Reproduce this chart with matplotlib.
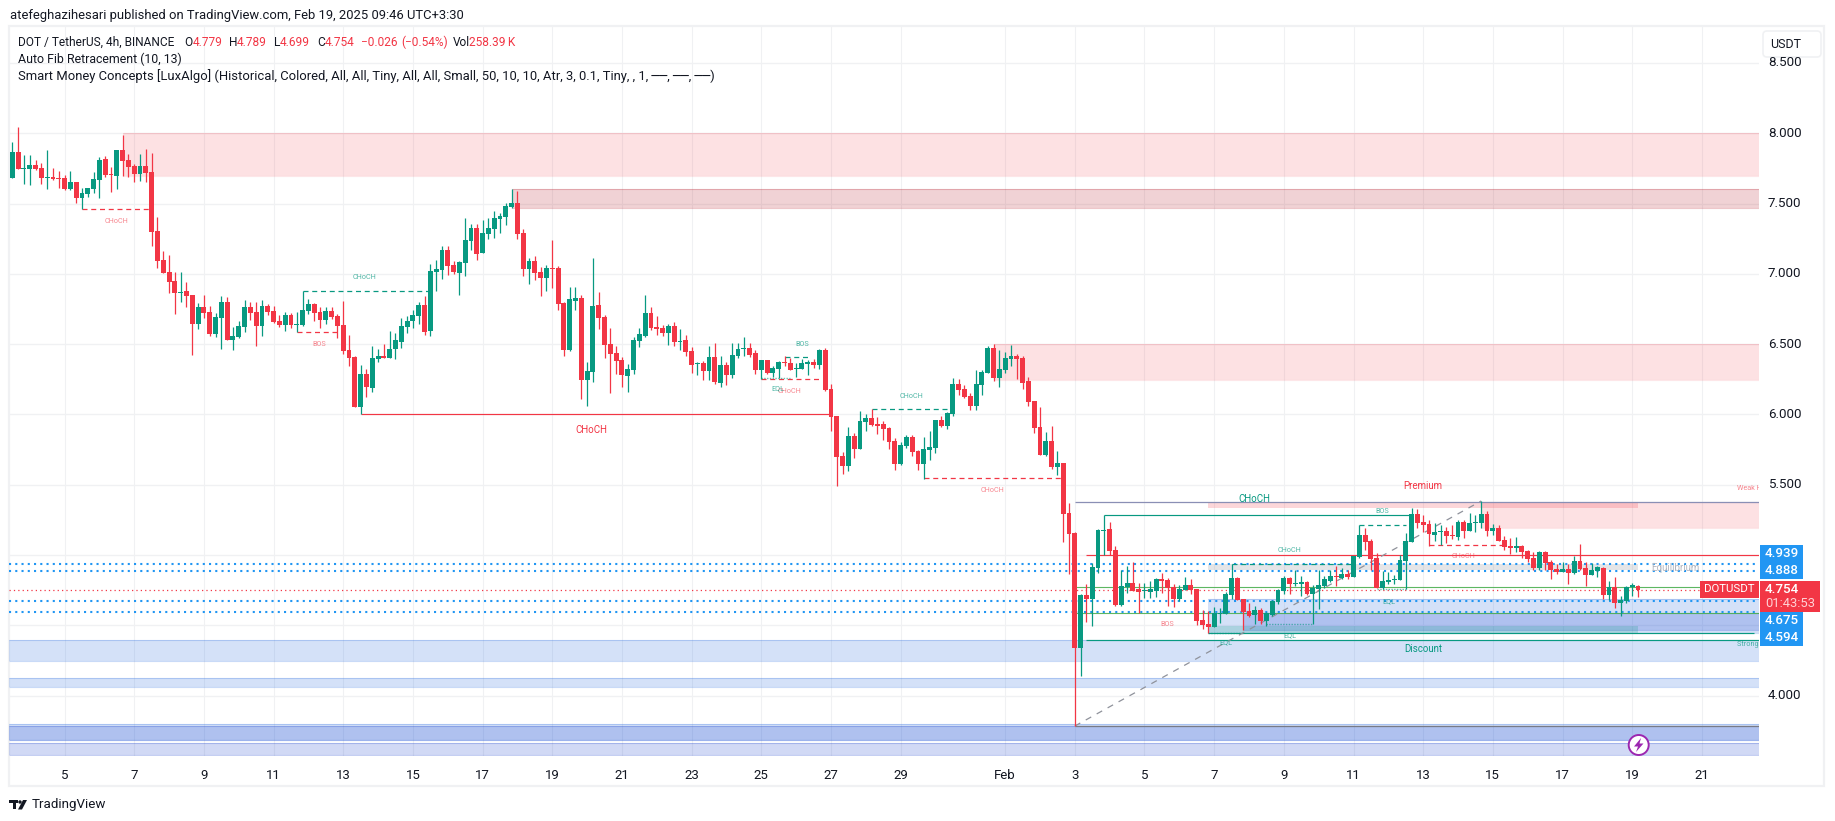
import matplotlib
matplotlib.use('Agg')
import matplotlib.pyplot as plt
from matplotlib.patches import Rectangle, Circle, Polygon, FancyBboxPatch
import numpy as np
import pandas as pd

plt.rcParams['font.family'] = ['Roboto', 'DejaVu Sans']

# 4h candles, first bar is Jan 3 12:00
opens = [7.685,7.867,7.749,7.749,7.772,7.753,7.682,7.687,7.682,7.682,
         7.604,7.654,7.540,7.569,7.604,7.668,7.817,7.708,7.699,7.881,
         7.810,7.768,7.711,7.768,7.725,7.305,7.099,7.014,6.950,6.867,
         6.879,6.850,6.646,6.765,6.732,6.575,6.687,6.801,6.530,6.551,
         6.623,6.765,6.729,6.630,6.772,6.736,6.665,6.637,6.708,6.637,
         6.637,6.736,6.786,6.729,6.672,6.736,6.701,6.637,6.459,6.409,
         6.054,6.288,6.189,6.395,6.416,6.402,6.466,6.516,6.623,6.665,
         6.701,6.779,6.594,7.016,7.028,7.170,7.064,7.007,7.078,7.234,
         7.327,7.149,7.284,7.320,7.391,7.405,7.476,7.505,7.291,7.035,
         7.092,7.014,6.971,7.042,7.042,6.793,6.457,6.807,6.829,6.246,
         6.303,6.779,6.694,6.502,6.438,6.388,6.274,6.317,6.523,6.558,
         6.722,6.622,6.615,6.580,6.630,6.516,6.530,6.452,6.362,6.367,
         6.310,6.409,6.224,6.352,6.281,6.416,6.466,6.473,6.438,6.317,
         6.388,6.295,6.324,6.374,6.367,6.324,6.324,6.359,6.374,6.352,
         6.459,6.182,5.990,5.705,5.634,5.848,5.755,5.947,5.976,5.933,
         5.933,5.904,5.812,5.649,5.776,5.840,5.741,5.649,5.748,5.762,
         5.961,5.919,6.004,6.217,6.182,6.132,6.061,6.210,6.295,6.473,
         6.260,6.317,6.395,6.416,6.402,6.238,6.096,5.911,5.712,5.812,
         5.627,5.655,5.299,5.157,4.339,4.716,4.688,4.908,5.171,5.186,
         5.036,4.645,4.773,4.802,4.757,4.747,4.738,4.745,4.830,4.823,
         4.773,4.688,4.752,4.787,4.759,4.538,4.510,4.489,4.583,4.581,
         4.716,4.837,4.688,4.602,4.574,4.610,4.531,4.574,4.666,4.745,
         4.837,4.794,4.794,4.809,4.723,4.759,4.780,4.816,4.851,4.837,
         4.865,4.844,4.986,5.143,5.100,4.979,4.766,4.809,4.823,4.823,
         4.958,5.093,5.292,5.235,5.221,5.143,5.164,5.171,5.143,5.129,
         5.235,5.171,5.228,5.228,5.292,5.171,5.193,5.107,5.065,5.050,
         5.065,5.029,4.979,4.908,5.022,4.951,4.901,4.880,4.901,4.873,
         4.958,4.908,4.858,4.887,4.908,4.716,4.773,4.659,4.674,4.773,
         4.779]
highs = [7.936,8.045,7.846,7.846,7.810,7.787,7.881,7.751,7.735,7.704,
         7.735,7.654,7.609,7.609,7.727,7.834,7.839,7.763,7.881,7.988,
         7.853,7.782,7.853,7.889,7.858,7.403,7.161,7.132,7.011,7.014,
         6.945,6.850,6.791,6.850,6.772,6.725,6.843,6.836,6.625,6.665,
         6.815,6.801,6.803,6.815,6.786,6.772,6.708,6.729,6.720,6.732,
         6.876,6.822,6.796,6.767,6.765,6.765,6.715,6.807,6.566,6.416,
         6.352,6.324,6.487,6.466,6.502,6.594,6.580,6.684,6.698,6.744,
         6.803,6.843,7.071,7.099,7.199,7.199,7.092,7.092,7.395,7.355,
         7.355,7.384,7.395,7.448,7.431,7.502,7.604,7.590,7.320,7.113,
         7.128,7.052,7.064,7.241,7.056,6.803,6.907,6.907,6.850,6.374,
         7.113,6.872,6.708,6.613,6.487,6.411,6.359,6.551,6.615,6.850,
         6.765,6.701,6.637,6.644,6.658,6.608,6.566,6.480,6.374,6.381,
         6.487,6.509,6.416,6.374,6.509,6.509,6.551,6.509,6.459,6.388,
         6.388,6.345,6.381,6.414,6.400,6.367,6.395,6.388,6.395,6.466,
         6.473,6.217,5.990,5.734,5.911,5.869,6.025,6.004,6.037,5.983,
         5.954,5.911,5.833,5.805,5.855,5.855,5.748,5.840,5.883,5.961,
         5.990,6.018,6.260,6.253,6.210,6.153,6.317,6.317,6.487,6.502,
         6.459,6.445,6.494,6.431,6.416,6.267,6.096,6.054,5.876,5.919,
         5.741,5.655,5.370,5.164,4.723,4.794,4.944,5.186,5.283,5.235,
         5.065,4.894,4.922,4.948,4.799,4.799,4.816,4.837,4.873,4.837,
         4.794,4.787,4.844,4.830,4.759,4.610,4.602,4.629,4.621,4.738,
         4.939,4.844,4.688,4.659,4.638,4.624,4.595,4.681,4.759,4.851,
         4.846,4.894,4.851,4.816,4.787,4.894,4.851,4.894,4.920,4.911,
         4.894,4.993,5.214,5.193,5.114,5.015,4.887,4.880,4.858,5.001,
         5.155,5.335,5.328,5.285,5.250,5.226,5.214,5.200,5.214,5.250,
         5.250,5.299,5.285,5.385,5.313,5.221,5.214,5.136,5.121,5.131,
         5.072,5.036,5.022,5.029,5.029,4.965,4.937,4.951,4.937,4.993,
         5.079,4.951,4.944,4.922,4.915,4.816,4.844,4.709,4.780,4.801,
         4.789]
lows = [7.685,7.749,7.640,7.633,7.739,7.640,7.604,7.668,7.609,7.597,
        7.597,7.507,7.460,7.550,7.578,7.540,7.692,7.585,7.604,7.699,
        7.692,7.656,7.661,7.656,7.201,7.045,7.009,6.867,6.715,6.803,
        6.767,6.423,6.608,6.684,6.561,6.554,6.466,6.530,6.459,6.547,
        6.589,6.672,6.490,6.559,6.708,6.651,6.625,6.597,6.618,6.585,
        6.630,6.715,6.668,6.615,6.644,6.677,6.544,6.431,6.345,6.054,
        6.001,6.125,6.160,6.374,6.400,6.400,6.395,6.473,6.578,6.615,
        6.644,6.566,6.559,6.879,6.964,6.992,7.000,6.850,6.985,7.170,
        7.099,7.149,7.248,7.256,7.289,7.348,7.469,7.248,6.985,6.928,
        6.957,6.843,6.879,6.898,6.744,6.416,6.452,6.744,6.113,6.061,
        6.231,6.608,6.405,6.153,6.288,6.196,6.160,6.288,6.480,6.551,
        6.601,6.566,6.558,6.494,6.487,6.459,6.416,6.295,6.281,6.246,
        6.246,6.217,6.196,6.210,6.260,6.402,6.416,6.409,6.288,6.250,
        6.288,6.267,6.260,6.345,6.317,6.267,6.324,6.281,6.331,6.324,
        6.168,5.883,5.492,5.577,5.599,5.691,5.755,5.883,5.919,5.862,
        5.819,5.755,5.606,5.641,5.762,5.705,5.606,5.544,5.677,5.727,
        5.911,5.897,5.990,6.139,6.118,6.032,6.032,6.139,6.295,6.239,
        6.196,6.295,6.345,6.253,6.182,6.061,5.869,5.712,5.705,5.613,
        5.570,5.094,4.865,3.784,4.140,4.524,4.496,4.873,5.001,5.001,
        4.638,4.638,4.730,4.745,4.586,4.695,4.695,4.702,4.730,4.638,
        4.631,4.674,4.752,4.723,4.503,4.475,4.444,4.489,4.515,4.581,
        4.688,4.681,4.467,4.560,4.510,4.510,4.496,4.567,4.652,4.723,
        4.723,4.780,4.709,4.716,4.510,4.617,4.766,4.809,4.780,4.830,
        4.830,4.844,4.979,5.036,4.894,4.766,4.759,4.794,4.794,4.823,
        4.759,5.093,5.193,5.164,5.067,5.100,5.072,5.086,5.114,5.107,
        5.121,5.171,5.164,5.190,5.136,5.143,5.100,5.036,5.008,5.022,
        4.979,4.951,4.894,4.894,4.894,4.830,4.865,4.880,4.794,4.865,
        4.894,4.780,4.858,4.844,4.688,4.681,4.624,4.567,4.659,4.709,
        4.699]
closes = [7.867,7.749,7.756,7.772,7.749,7.685,7.690,7.675,7.675,7.604,
          7.654,7.540,7.576,7.609,7.673,7.810,7.704,7.704,7.881,7.803,
          7.763,7.711,7.768,7.718,7.301,7.094,7.009,6.943,6.867,6.874,
          6.843,6.646,6.765,6.725,6.575,6.694,6.801,6.530,6.559,6.630,
          6.765,6.725,6.630,6.772,6.729,6.658,6.637,6.708,6.637,6.644,
          6.744,6.786,6.725,6.672,6.736,6.694,6.630,6.452,6.402,6.054,
          6.288,6.196,6.402,6.416,6.402,6.466,6.530,6.630,6.665,6.708,
          6.779,6.587,7.021,7.035,7.170,7.056,7.014,7.085,7.241,7.327,
          7.142,7.291,7.327,7.398,7.412,7.483,7.505,7.284,7.035,7.092,
          7.007,6.971,7.042,7.035,6.788,6.461,6.822,6.829,6.246,6.310,
          6.772,6.687,6.495,6.431,6.381,6.281,6.324,6.530,6.573,6.722,
          6.615,6.608,6.580,6.630,6.516,6.523,6.445,6.352,6.369,6.310,
          6.409,6.231,6.352,6.281,6.423,6.466,6.473,6.423,6.317,6.388,
          6.295,6.331,6.374,6.367,6.317,6.331,6.367,6.374,6.352,6.459,
          6.175,5.983,5.698,5.634,5.848,5.755,5.954,5.976,5.926,5.919,
          5.897,5.805,5.649,5.784,5.840,5.734,5.649,5.755,5.769,5.961,
          5.919,6.011,6.217,6.175,6.125,6.061,6.217,6.303,6.473,6.260,
          6.324,6.402,6.416,6.395,6.224,6.089,5.904,5.712,5.812,5.627,
          5.655,5.293,5.150,4.339,4.716,4.688,4.915,5.178,5.178,5.029,
          4.645,4.780,4.802,4.745,4.738,4.754,4.757,4.830,4.816,4.766,
          4.688,4.759,4.787,4.752,4.531,4.503,4.489,4.586,4.591,4.723,
          4.837,4.681,4.595,4.567,4.610,4.531,4.586,4.674,4.752,4.837,
          4.794,4.801,4.809,4.723,4.766,4.787,4.830,4.851,4.844,4.865,
          4.844,4.993,5.143,5.093,4.972,4.766,4.816,4.823,4.830,4.965,
          5.100,5.292,5.228,5.214,5.150,5.164,5.171,5.136,5.136,5.235,
          5.171,5.228,5.235,5.292,5.171,5.193,5.100,5.057,5.050,5.065,
          5.022,4.972,4.908,5.022,4.944,4.894,4.880,4.901,4.873,4.958,
          4.901,4.858,4.894,4.915,4.716,4.773,4.659,4.681,4.773,4.787,
          4.754]

dates = pd.date_range('2025-01-03 12:00', periods=len(closes), freq='4h')

# zones: first bar, top price, bottom price
supply_zones = [(19, 8.000, 7.699), (169, 6.499, 6.243), (253, 5.380, 5.195)]
strong_supply_zones = [(86, 7.604, 7.470)]
light_blue_zones = [(-1, 4.394, 4.249), (-1, 4.124, 4.060), (-1, 3.797, 3.685), (206, 4.685, 4.444)]
deep_blue_zones = [(-1, 3.782, 3.685), (-1, 3.660, 3.576), (212, 4.586, 4.465)]
# bands between two bars
premium_band = (206, 280, 5.380, 5.335)
equilibrium_band = (206, 280, 4.937, 4.894)
discount_band = (206, 280, 4.496, 4.444)

# structure lines: first bar, last bar, price
red_dashed = [(12, 24, 7.460), (49, 56, 6.585), (129, 139, 6.250), (157, 181, 5.546), (244, 257, 5.069)]
teal_dashed = [(50, 72, 6.876), (133, 137, 6.411), (148, 162, 6.037), (232, 240, 5.211), (210, 231, 4.939)]
red_solid = [(60, 141, 6.001), (185, 301, 5.003)]
teal_solid = [(188, 241, 5.283), (206, 300, 4.444), (185, 301, 4.394)]
teal_dotted = [(129, 134, 6.258), (235, 240, 4.756), (216, 224, 4.510), (206, 212, 4.448)]
green_lines = [(183, 301, 4.771), (183, 301, 4.586)]
fib_top = (183, 301, 5.380)
fib_bottom = (183, 301, 3.782)
fib_anchor_bars = [183, 253]
fib_anchor_prices = [3.784, 5.385]

blue_levels = [4.939, 4.888, 4.675, 4.594]
last_price = 4.754

# labels: text, bar, price
small_red_labels = [('CHoCH', 17.9, 7.371), ('BOS', 52.9, 6.501), ('CHoCH', 133.8, 6.167),
                    ('CHoCH', 168.9, 5.461), ('BOS', 198.9, 4.503), ('CHoCH', 249.9, 4.989)]
small_teal_labels = [('CHoCH', 60.7, 6.971), ('BOS', 136, 6.499), ('EQL', 131.9, 6.181),
                     ('CHoCH', 154.8, 6.130), ('CHoCH', 219.9, 5.034), ('BOS', 236, 5.307),
                     ('EQL', 237.1, 4.668), ('EQL', 220, 4.427), ('EQL', 209, 4.375)]
big_labels = [('CHoCH', 99.8, 5.892, 'red'), ('CHoCH', 214, 5.397, 'teal'),
              ('Premium', 243, 5.494, 'red'), ('Discount', 243, 4.334, 'teal'),
              ('Equilibrium', 286.4, 4.910, 'gray')]

price_ticks = [8.5, 8.0, 7.5, 7.0, 6.5, 6.0, 5.5, 5.0, 4.5, 4.0]
price_labels = ['8.500', '8.000', '7.500', '7.000', '6.500', '6.000', '5.500', '', '', '4.000']
tick_dates = ['2025-01-05', '2025-01-07', '2025-01-09', '2025-01-11', '2025-01-13', '2025-01-15',
              '2025-01-17', '2025-01-19', '2025-01-21', '2025-01-23', '2025-01-25', '2025-01-27',
              '2025-01-29', '2025-02-01', '2025-02-03', '2025-02-05', '2025-02-07', '2025-02-09',
              '2025-02-11', '2025-02-13', '2025-02-15', '2025-02-17', '2025-02-19', '2025-02-21']
tick_labels = ['5', '7', '9', '11', '13', '15', '17', '19', '21', '23', '25', '27', '29', 'Feb',
               '3', '5', '7', '9', '11', '13', '15', '17', '19', '21']

UP = '#089981'
DOWN = '#f23645'
TEXT = '#131722'
GRID = '#f0f1f3'
W, H = 1835, 821

fig = plt.figure(figsize=(W / 100, H / 100), dpi=100, facecolor='white')

# pixel overlay for the page furniture, drawn first so the pane sits above its frame
ov = fig.add_axes([0, 0, 1, 1], zorder=0)
ov.set_xlim(0, W)
ov.set_ylim(H, 0)
ov.axis('off')
ov.add_patch(Rectangle((9, 26.5), 1815, 759.5, fill=False, edgecolor=GRID, lw=1.6))

ax = fig.add_axes([9 / W, (H - 756) / H, 1750 / W, 730 / H], zorder=1)
ax.patch.set_alpha(0)
for s in ax.spines.values():
    s.set_visible(False)
ax.set_xlim(-0.568, 300.84)
ax.set_ylim(3.571, 8.763)

# grid
tick_bars = [(pd.Timestamp(d) - dates[0]) / pd.Timedelta(hours=4) for d in tick_dates]
for b in tick_bars:
    ax.axvline(b, color=GRID, lw=0.8, zorder=0)
for p in price_ticks:
    ax.axhline(p, color=GRID, lw=1.0, zorder=0)
ax.set_xticks(tick_bars)
ax.set_xticklabels(tick_labels, fontsize=9.5, color=TEXT)
ax.set_yticks([])
ax.tick_params(axis='x', length=0, pad=9.5)
x_end = ax.get_xlim()[1]
x_start = ax.get_xlim()[0]


def zone(left, right, top, bottom, color, alpha, edge=0.2):
    ax.add_patch(Rectangle((left, bottom), right - left, top - bottom, facecolor=color, alpha=alpha,
                           lw=0, zorder=1))
    ax.hlines([top, bottom], left, right, color=color, alpha=edge, lw=0.8, zorder=1)


for left, top, bottom in supply_zones:
    zone(left, x_end, top, bottom, DOWN, 0.15, 0.12)
for left, top, bottom in strong_supply_zones:
    zone(left, x_end, top, bottom, '#b8202e', 0.2, 0.25)
for left, top, bottom in light_blue_zones:
    zone(max(left, x_start), x_end, top, bottom, '#2a6de0', 0.2, 0.25)
for left, top, bottom in deep_blue_zones:
    zone(max(left, x_start), x_end, top, bottom, '#1b42cd', 0.2, 0.25)
zone(premium_band[0], premium_band[1], premium_band[2], premium_band[3], DOWN, 0.2, 0)
zone(equilibrium_band[0], equilibrium_band[1], equilibrium_band[2], equilibrium_band[3], '#878b94', 0.22, 0)
zone(discount_band[0], discount_band[1], discount_band[2], discount_band[3], UP, 0.2, 0)

# levels
for p in blue_levels:
    ax.axhline(p, color='#2196f3', lw=1.5, linestyle=(0, (1, 2)), zorder=2)
ax.axhline(last_price, color=DOWN, lw=0.9, linestyle=(0, (1, 2.5)), zorder=2)

# structure
for a, b, p in red_dashed:
    ax.hlines(p, a, b, color=DOWN, lw=0.9, linestyle=(0, (4, 3)), zorder=2)
for a, b, p in teal_dashed:
    ax.hlines(p, a, b, color=UP, lw=0.9, linestyle=(0, (4, 3)), zorder=2)
for a, b, p in red_solid:
    ax.hlines(p, a, b, color=DOWN, lw=0.85, zorder=2)
for a, b, p in teal_solid:
    ax.hlines(p, a, b, color=UP, lw=0.85, zorder=2)
for a, b, p in teal_dotted:
    ax.hlines(p, a, b, color=UP, lw=1, alpha=0.6, linestyle=(0, (1, 1)), zorder=2)
for a, b, p in green_lines:
    ax.hlines(p, a, b, color='#4caf50', lw=0.8, alpha=0.9, zorder=2)
ax.hlines(fib_top[2], fib_top[0], fib_top[1], color='#8a8fb5', lw=0.9, zorder=2)
ax.hlines(fib_bottom[2], fib_bottom[0], fib_bottom[1], color='#787b86', lw=0.9, zorder=2)
ax.plot(fib_anchor_bars, fib_anchor_prices, color='#8f929b', lw=0.9, linestyle=(0, (5, 5)), zorder=2)

# candles
x = np.arange(len(closes))
o = np.array(opens)
c = np.array(closes)
col = [UP if cl >= op else DOWN for op, cl in zip(o, c)]
ax.vlines(x, lows, highs, colors=col, lw=0.9, zorder=3)
ax.bar(x, np.maximum(np.abs(c - o), 0.005), bottom=np.minimum(o, c), width=0.84, color=col, linewidth=0, zorder=3)

# labels
for t, b, p in small_red_labels:
    ax.text(b, p, t, color=DOWN, alpha=0.6, fontsize=5.2, ha='center', va='center', zorder=4)
for t, b, p in small_teal_labels:
    ax.text(b, p, t, color=UP, alpha=0.7, fontsize=5.2, ha='center', va='center', zorder=4)
big_colors = {'red': DOWN, 'teal': UP, 'gray': '#b2b5be'}
for t, b, p, k in big_labels:
    ax.text(b, p, t, color=big_colors[k], fontsize=7, ha='center', va='center', zorder=4)
ax.text(297.1, 5.470, 'Weak High', color=DOWN, alpha=0.6, fontsize=5.2, ha='left', va='center',
        zorder=4, clip_on=True)
ax.text(297.1, 4.363, 'Strong Low', color=UP, alpha=0.7, fontsize=5.2, ha='left', va='center',
        zorder=4, clip_on=True)

# top overlay for header, legend, price scale
top = fig.add_axes([0, 0, 1, 1], zorder=2)
top.set_xlim(0, W)
top.set_ylim(H, 0)
top.axis('off')
top.patch.set_alpha(0)

top.text(10, 15, 'atefeghazihesari published on TradingView.com, Feb 19, 2025 09:46 UTC+3:30',
         fontsize=9.4, color=TEXT, va='center')
top.text(18, 42, 'DOT / TetherUS, 4h, BINANCE', fontsize=8.6, color=TEXT, va='center')
legend_bits = [(184.7, 'O', TEXT), (193, '4.779', DOWN), (229, 'H', TEXT), (237, '4.789', DOWN),
               (273.6, 'L', TEXT), (280, '4.699', DOWN), (317, 'C', TEXT), (325, '4.754', DOWN),
               (360.6, '\u22120.026', DOWN), (401, '(\u22120.54%)', DOWN), (452.7, 'Vol', TEXT),
               (469, '258.39\u2009K', DOWN)]
for px, t, cl in legend_bits:
    top.text(px, 42, t, fontsize=8.6, color=cl, va='center')
top.text(18, 59, 'Auto Fib Retracement (10, 13)', fontsize=8.9, color=TEXT, va='center')
top.text(18, 76, 'Smart Money Concepts [LuxAlgo] (Historical, Colored, All, All, Tiny, All, All, Small, '
         '50, 10, 10, Atr, 3, 0.1, Tiny, , 1, \u2500\u2500, \u2500\u2500, \u2500\u2500)',
         fontsize=9.4, color=TEXT, va='center')

# price scale text
for p, t in zip(price_ticks, price_labels):
    if t:
        yp = 133.3 + (8 - p) * 140.6
        top.text(1768, yp, t, fontsize=9.6, color=TEXT, va='center')

# USDT button sits over the top of the 8.500 label
top.add_patch(Rectangle((1762, 28), 60, 31, facecolor='white', lw=0))
top.add_patch(FancyBboxPatch((1765, 33), 54, 22, boxstyle='round,pad=2,rounding_size=4',
                             facecolor='white', edgecolor=GRID, lw=1.2))
top.text(1786, 44, 'USDT', fontsize=9, color=TEXT, ha='center', va='center')

# price labels
top.add_patch(Rectangle((1760, 545.3), 43, 33.4, facecolor='#2196f3', lw=0))
top.add_patch(Rectangle((1760, 612.3), 43, 33.4, facecolor='#2196f3', lw=0))
top.add_patch(Rectangle((1760, 581), 60, 30.7, facecolor=DOWN, lw=0))
top.add_patch(Rectangle((1700, 581), 59, 16.7, facecolor=DOWN, lw=0))
for yp, t in zip([553.3, 570.3, 620.7, 637.3], ['4.939', '4.888', '4.675', '4.594']):
    top.text(1782, yp, t, fontsize=9.6, color='white', ha='center', va='center', fontweight='medium')
top.text(1729.5, 589.5, 'DOTUSDT', fontsize=8.2, color='white', ha='center', va='center')
top.text(1782, 589.7, '4.754', fontsize=9.6, color='white', ha='center', va='center', fontweight='medium')
top.text(1790, 603.5, '01:43:53', fontsize=9.4, color='#ffd0d4', ha='center', va='center')

# idea marker
top.add_patch(Circle((1638.7, 745), 10, facecolor='white', edgecolor='#9c27b0', lw=1.4))
top.add_patch(Polygon([(1641, 738), (1634, 746.5), (1638, 746.5), (1636, 752), (1643.5, 743.5), (1639.5, 743.5)],
                      closed=True, facecolor='#9c27b0', lw=0))

# logo
top.add_patch(Rectangle((9, 800), 9, 3.5, facecolor=TEXT, lw=0))
top.add_patch(Rectangle((12.5, 800), 3.6, 9.5, facecolor=TEXT, lw=0))
top.add_patch(Circle((20, 802), 1.7, facecolor=TEXT, lw=0))
top.add_patch(Polygon([(23, 800), (27, 800), (22, 809.5), (18, 809.5)], closed=True, facecolor=TEXT, lw=0))
top.text(32, 804.5, 'TradingView', fontsize=9.6, color=TEXT, va='center')

fig.savefig('out.png', dpi=100)
